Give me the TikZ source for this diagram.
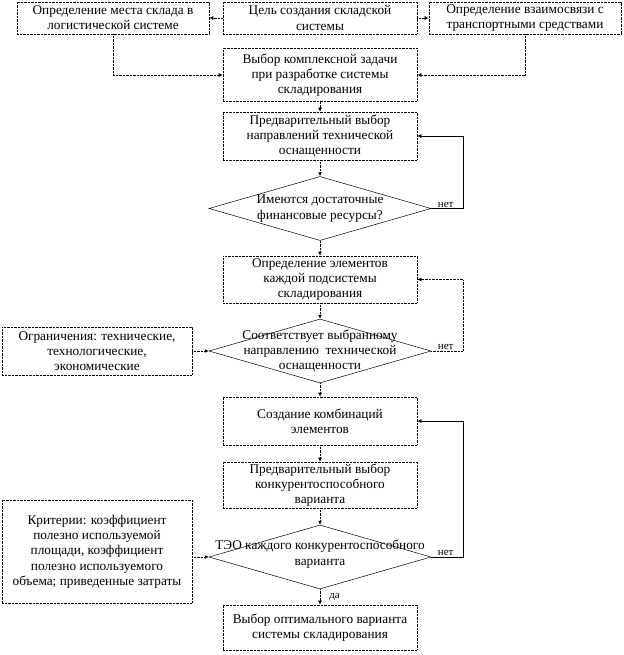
\documentclass[tikz,border=0pt]{standalone}
\usepackage{fontspec}
\setmainfont{Liberation Serif}
\usetikzlibrary{arrows.meta}
\usetikzlibrary{shapes.geometric}

\begin{document}
\begin{tikzpicture}[x=1pt,y=-1pt,
    fine/.style={dash pattern=on 0.7pt off 0.7pt},
    blk/.style={draw, fine, line width=0.7pt, align=center, inner sep=1pt,
      minimum width=194pt, font=\fontsize{13.3}{15.3}\selectfont},
    decide/.style={draw, diamond, line width=0.5pt, inner sep=0pt, aspect=3.5,
      minimum width=222pt, minimum height=64pt},
    txt/.style={align=center, font=\fontsize{13.3}{15.3}\selectfont},
    link/.style={fine, line width=0.7pt, -{Latex[length=4pt,width=4pt]}},
    back/.style={line width=0.6pt, -{Latex[length=4pt,width=4pt]}},
    lbl/.style={font=\fontsize{11}{12}\selectfont, inner sep=1pt}]
    \useasboundingbox (0,0) rectangle (623,655);
    \node[blk, minimum height=32pt] (goal) at (320,18) {Цель создания складской\\системы};
    \node[blk, minimum width=192pt, minimum height=32pt] (place) at (113,18) {Определение места склада в\\логистической системе};
    \node[blk, minimum width=192pt, minimum height=32pt] (transp) at (525,18) {Определение взаимосвязи с\\транспортными средствами};
    \node[blk, minimum height=53pt] (task) at (320,75) {Выбор комплексной задачи\\при разработке системы\\складирования};
    \node[blk, minimum height=48pt] (tech) at (320,136) {Предварительный выбор\\направлений технической\\оснащенности};
    \node[decide, label={[txt]center:Имеются достаточные\\финансовые ресурсы?}] (money) at (320,208.5) {};
    \node[blk, minimum height=47pt] (elem) at (320,279.5) {Определение элементов\\каждой подсистемы\\складирования};
    \node[decide, label={[txt]center:Соответствует выбранному\\направлению~ технической\\оснащенности}] (match) at (320,351) {};
    \node[blk, minimum width=190pt, minimum height=48pt] (limits) at (97,351) {Ограничения: технические,\\технологические,\\экономические};
    \node[blk, minimum height=48pt] (combo) at (320,421) {Создание комбинаций\\элементов};
    \node[blk, minimum height=46pt] (prelim) at (320,485) {Предварительный выбор\\конкурентоспособного\\варианта};
    \node[decide, label={[txt,yshift=3pt]center:ТЭО каждого конкурентоспособного\\варианта}] (teo) at (320,557) {};
    \node[blk, minimum width=190pt, minimum height=103pt] (crit) at (97,551.5) {Критерии: коэффициент\\полезно используемой\\площади, коэффициент\\полезно используемого\\объема; приведенные затраты};
    \node[blk, minimum height=45pt] (best) at (320,627.5) {Выбор оптимального варианта\\системы складирования};

    \draw[link] (goal) -- (place);
    \draw[link] (goal) -- (transp);
    \draw[link] (place.south) |- (task.west);
    \draw[link] (transp.south) |- (task.east);
    \draw[link] (task) -- (tech);
    \draw[link] (tech) -- (money);
    \draw[link] (money) -- (elem);
    \draw[link] (elem) -- (match);
    \draw[link] (match) -- (combo);
    \draw[link] (combo) -- (prelim);
    \draw[link] (prelim) -- (teo);
    \draw[link] (teo) -- node[lbl, right, xshift=8pt] {да} (best);
    \draw[link] (limits) -- (match);
    \draw[link] (crit.east |- teo.west) -- (teo.west);
    \draw[back] (money.east) -- node[lbl, above, pos=0.45] {нет} ++(32,0) |- (tech.east);
    \draw[back, fine, line width=0.7pt] (match.east) -- node[lbl, above, pos=0.45] {нет} ++(32,0) |- (elem.east);
    \draw[back] (teo.east) -- node[lbl, above, pos=0.45] {нет} ++(32,0) |- (combo.east);
\end{tikzpicture}
\end{document}
